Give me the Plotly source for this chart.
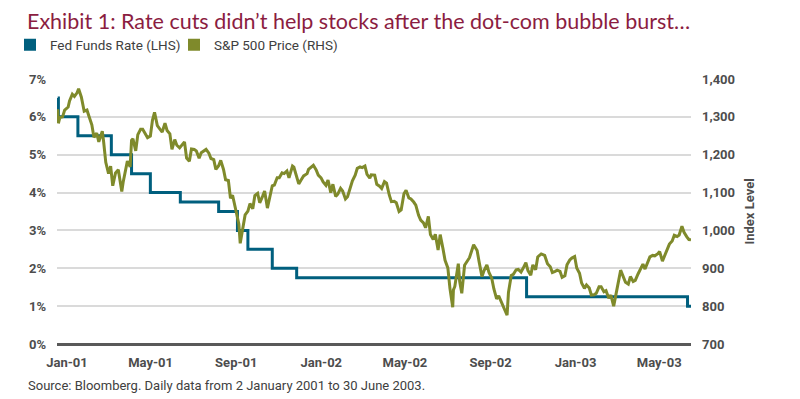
import plotly.graph_objects as go

# ---- data ----
fed_dates = ["2001-01-02", "2001-01-03", "2001-01-31", "2001-03-20", "2001-04-18",
             "2001-05-15", "2001-06-27", "2001-08-21", "2001-09-17", "2001-10-02",
             "2001-11-06", "2001-12-11", "2002-11-06", "2003-06-25", "2003-06-30"]
fed_rate = [6.5, 6.0, 5.5, 5.0, 4.5, 4.0, 3.75, 3.5, 3.0, 2.5, 2.0, 1.75, 1.25, 1.0, 1.0]

spx_dates = [
    "2001-01-02", "2001-01-03", "2001-01-05", "2001-01-09", "2001-01-12", "2001-01-17", "2001-01-19",
    "2001-01-23", "2001-01-26", "2001-01-30", "2001-02-01", "2001-02-05", "2001-02-09", "2001-02-13",
    "2001-02-16", "2001-02-20", "2001-02-23", "2001-02-27", "2001-03-02", "2001-03-07", "2001-03-09",
    "2001-03-12", "2001-03-16", "2001-03-19", "2001-03-22", "2001-03-26", "2001-03-30", "2001-04-04",
    "2001-04-06", "2001-04-10", "2001-04-12", "2001-04-16", "2001-04-18", "2001-04-20", "2001-04-24",
    "2001-04-27", "2001-05-01", "2001-05-04", "2001-05-08", "2001-05-11", "2001-05-15", "2001-05-18",
    "2001-05-21", "2001-05-25", "2001-05-29", "2001-06-01", "2001-06-05", "2001-06-08", "2001-06-12",
    "2001-06-15", "2001-06-19", "2001-06-22", "2001-06-26", "2001-06-29", "2001-07-03", "2001-07-06",
    "2001-07-10", "2001-07-13", "2001-07-17", "2001-07-20", "2001-07-24", "2001-07-27", "2001-07-31",
    "2001-08-03", "2001-08-07", "2001-08-10", "2001-08-14", "2001-08-17", "2001-08-21", "2001-08-24",
    "2001-08-28", "2001-08-31", "2001-09-04", "2001-09-07", "2001-09-10", "2001-09-17", "2001-09-19",
    "2001-09-21", "2001-09-25", "2001-09-28", "2001-10-02", "2001-10-05", "2001-10-09", "2001-10-12",
    "2001-10-16", "2001-10-19", "2001-10-23", "2001-10-26", "2001-10-30", "2001-11-02", "2001-11-06",
    "2001-11-09", "2001-11-13", "2001-11-16", "2001-11-20", "2001-11-23", "2001-11-27", "2001-11-30",
    "2001-12-05", "2001-12-07", "2001-12-11", "2001-12-14", "2001-12-18", "2001-12-21", "2001-12-26",
    "2001-12-28", "2002-01-04", "2002-01-08", "2002-01-11", "2002-01-15", "2002-01-18", "2002-01-22",
    "2002-01-25", "2002-01-29", "2002-02-01", "2002-02-05", "2002-02-08", "2002-02-12", "2002-02-15",
    "2002-02-19", "2002-02-22", "2002-02-26", "2002-03-01", "2002-03-05", "2002-03-08", "2002-03-12",
    "2002-03-15", "2002-03-19", "2002-03-22", "2002-03-26", "2002-03-28", "2002-04-02", "2002-04-05",
    "2002-04-09", "2002-04-12", "2002-04-16", "2002-04-19", "2002-04-23", "2002-04-26", "2002-04-30",
    "2002-05-03", "2002-05-07", "2002-05-10", "2002-05-14", "2002-05-17", "2002-05-21", "2002-05-24",
    "2002-05-28", "2002-05-31", "2002-06-04", "2002-06-07", "2002-06-11", "2002-06-14", "2002-06-18",
    "2002-06-21", "2002-06-25", "2002-06-28", "2002-07-02", "2002-07-05", "2002-07-09", "2002-07-12",
    "2002-07-16", "2002-07-19", "2002-07-23", "2002-07-24", "2002-07-26", "2002-07-31", "2002-08-02",
    "2002-08-05", "2002-08-09", "2002-08-13", "2002-08-16", "2002-08-22", "2002-08-27", "2002-08-30",
    "2002-09-03", "2002-09-06", "2002-09-10", "2002-09-13", "2002-09-17", "2002-09-20", "2002-09-24",
    "2002-09-27", "2002-09-30", "2002-10-04", "2002-10-09", "2002-10-11", "2002-10-15", "2002-10-18",
    "2002-10-22", "2002-10-25", "2002-10-29", "2002-11-01", "2002-11-05", "2002-11-08", "2002-11-12",
    "2002-11-15", "2002-11-19", "2002-11-22", "2002-11-27", "2002-12-02", "2002-12-06", "2002-12-10",
    "2002-12-13", "2002-12-17", "2002-12-20", "2002-12-24", "2002-12-27", "2002-12-31", "2003-01-03",
    "2003-01-07", "2003-01-10", "2003-01-14", "2003-01-17", "2003-01-21", "2003-01-24", "2003-01-28",
    "2003-01-31", "2003-02-04", "2003-02-07", "2003-02-11", "2003-02-14", "2003-02-18", "2003-02-21",
    "2003-02-25", "2003-02-28", "2003-03-04", "2003-03-07", "2003-03-11", "2003-03-14", "2003-03-18",
    "2003-03-21", "2003-03-25", "2003-03-28", "2003-04-01", "2003-04-04", "2003-04-08", "2003-04-11",
    "2003-04-15", "2003-04-17", "2003-04-22", "2003-04-25", "2003-04-29", "2003-05-02", "2003-05-06",
    "2003-05-09", "2003-05-13", "2003-05-16", "2003-05-20", "2003-05-23", "2003-05-27", "2003-05-30",
    "2003-06-03", "2003-06-06", "2003-06-10", "2003-06-13", "2003-06-17", "2003-06-20", "2003-06-24",
    "2003-06-27", "2003-06-30"]
spx_price = [
    1320, 1283, 1298, 1300, 1318, 1326, 1342,
    1360, 1354, 1364, 1374, 1352, 1315, 1318,
    1301, 1279, 1246, 1257, 1234, 1262, 1233,
    1180, 1150, 1170, 1118, 1152, 1160, 1103,
    1128, 1168, 1183, 1168, 1238, 1242, 1210,
    1253, 1267, 1267, 1256, 1245, 1249, 1291,
    1312, 1277, 1267, 1260, 1283, 1264, 1255,
    1214, 1240, 1225, 1218, 1224, 1234, 1191,
    1183, 1215, 1214, 1210, 1191, 1205, 1211,
    1214, 1204, 1190, 1187, 1161, 1171, 1185,
    1161, 1134, 1132, 1085, 1093, 1039, 1017,
    966, 1012, 1041, 1051, 1071, 1057, 1092,
    1098, 1073, 1090, 1104, 1059, 1087, 1118,
    1120, 1139, 1139, 1152, 1150, 1157, 1139,
    1170, 1167, 1141, 1123, 1135, 1144, 1150,
    1161, 1172, 1160, 1146, 1139, 1128, 1119,
    1133, 1100, 1122, 1090, 1096, 1111, 1104,
    1083, 1089, 1110, 1131, 1146, 1164, 1168,
    1166, 1170, 1148, 1138, 1147, 1146, 1122,
    1117, 1111, 1129, 1125, 1093, 1076, 1077,
    1073, 1050, 1054, 1097, 1106, 1086, 1083,
    1075, 1067, 1040, 1027, 1020, 1007, 1037,
    989, 976, 990, 948, 989, 952, 921,
    901, 847, 797, 843, 852, 912, 865,
    834, 908, 920, 928, 962, 947, 916,
    878, 894, 909, 889, 874, 846, 819,
    827, 815, 800, 776, 836, 881, 884,
    896, 897, 890, 900, 915, 894, 882,
    909, 896, 930, 938, 934, 912, 904,
    889, 892, 895, 892, 876, 880, 909,
    922, 927, 931, 901, 887, 861, 847,
    856, 848, 829, 830, 834, 851, 851,
    838, 841, 821, 829, 800, 833, 866,
    895, 874, 863, 858, 878, 865, 868,
    885, 893, 911, 898, 914, 930, 934,
    933, 938, 944, 919, 933, 951, 964,
    972, 987, 984, 988, 1011, 995, 983,
    976, 975]

x_tick_vals = ["2001-01-01", "2001-05-01", "2001-09-01", "2002-01-01",
               "2002-05-01", "2002-09-01", "2003-01-01", "2003-05-01"]
x_tick_text = ["Jan-01", "May-01", "Sep-01", "Jan-02", "May-02", "Sep-02", "Jan-03", "May-03"]
left_ticks = [0, 1, 2, 3, 4, 5, 6, 7]
left_text = ["0%", "1%", "2%", "3%", "4%", "5%", "6%", "7%"]
right_ticks = [700, 800, 900, 1000, 1100, 1200, 1300, 1400]
right_text = ["700", "800", "900", "1,000", "1,100", "1,200", "1,300", "1,400"]

TEAL = "#005F7E"
OLIVE = "#7F8A2B"
TICKFONT = dict(family="Roboto", size=13, color="#4D4D4D", weight=700)
TEXTFONT = "Roboto, sans-serif"

# the page body adds an 8px offset; the figure is sized to fit the 800x399 window
W, H = 792, 391

fig = go.Figure()
fig.add_trace(go.Scatter(x=spx_dates, y=spx_price, mode="lines", yaxis="y2",
                         line=dict(color=OLIVE, width=3), showlegend=False,
                         name="S&P 500 Price (RHS)"))
fig.add_trace(go.Scatter(x=fed_dates, y=fed_rate, mode="lines", line_shape="hv",
                         line=dict(color=TEAL, width=3), showlegend=False,
                         name="Fed Funds Rate (LHS)"))
# legend swatches (square markers)
fig.add_trace(go.Scatter(x=[None], y=[None], mode="markers", name="Fed Funds Rate (LHS)",
                         marker=dict(symbol="square", size=10, color=TEAL)))
fig.add_trace(go.Scatter(x=[None], y=[None], mode="markers", name="S&P 500 Price (RHS)",
                         marker=dict(symbol="square", size=10, color=OLIVE)))

fig.update_layout(
    width=W, height=H,
    margin=dict(l=49, r=109, t=71, b=55, autoexpand=False),
    paper_bgcolor="white", plot_bgcolor="white",
    title=dict(text="Exhibit 1: Rate cuts didn\u2019t help stocks after the dot-com bubble burst\u2026",
               x=19 / W, xref="container", xanchor="left",
               y=1 - 13.5 / H, yref="container", yanchor="middle",
               font=dict(family="Lato", size=21.5, color="#8B1D41")),
    legend=dict(orientation="h", x=2 / W, y=1 - 37 / H, xref="container", yref="container",
                xanchor="left", yanchor="middle",
                font=dict(family=TEXTFONT, size=13.5, color="#404040"),
                itemsizing="constant", traceorder="normal", itemwidth=30,
                entrywidth=119, entrywidthmode="pixels"),
    xaxis=dict(type="date", range=["2001-01-01", "2003-06-30"],
               tickvals=x_tick_vals, ticktext=x_tick_text, showgrid=False,
               ticks="", tickfont=TICKFONT, ticklabelshift=10, ticklabelstandoff=9,
               showline=False, zeroline=False),
    yaxis=dict(range=[0, 7], tickvals=left_ticks, ticktext=left_text,
               showgrid=True, gridcolor="#DADADA", gridwidth=1.5,
               zeroline=True, zerolinecolor="#595959", zerolinewidth=3,
               ticks="", tickfont=TICKFONT, ticklabelstandoff=10),
    yaxis2=dict(range=[700, 1400], tickvals=right_ticks, ticktext=right_text,
                overlaying="y", side="right", showgrid=False, zeroline=False,
                ticks="", tickfont=TICKFONT, ticklabelstandoff=10,
                title=dict(text="Index Level", standoff=10,
                           font=dict(family="Roboto", size=13, color="#4D4D4D", weight=700))),
)

fig.add_annotation(text="Source: Bloomberg. Daily data from 2 January 2001 to 30 June 2003.",
                   xref="paper", yref="paper", x=(18 - 49) / 634, y=-(377 - 336) / 265,
                   xanchor="left", yanchor="middle", showarrow=False,
                   font=dict(family=TEXTFONT, size=13, color="#404040"))

fig.write_html("out.html")
